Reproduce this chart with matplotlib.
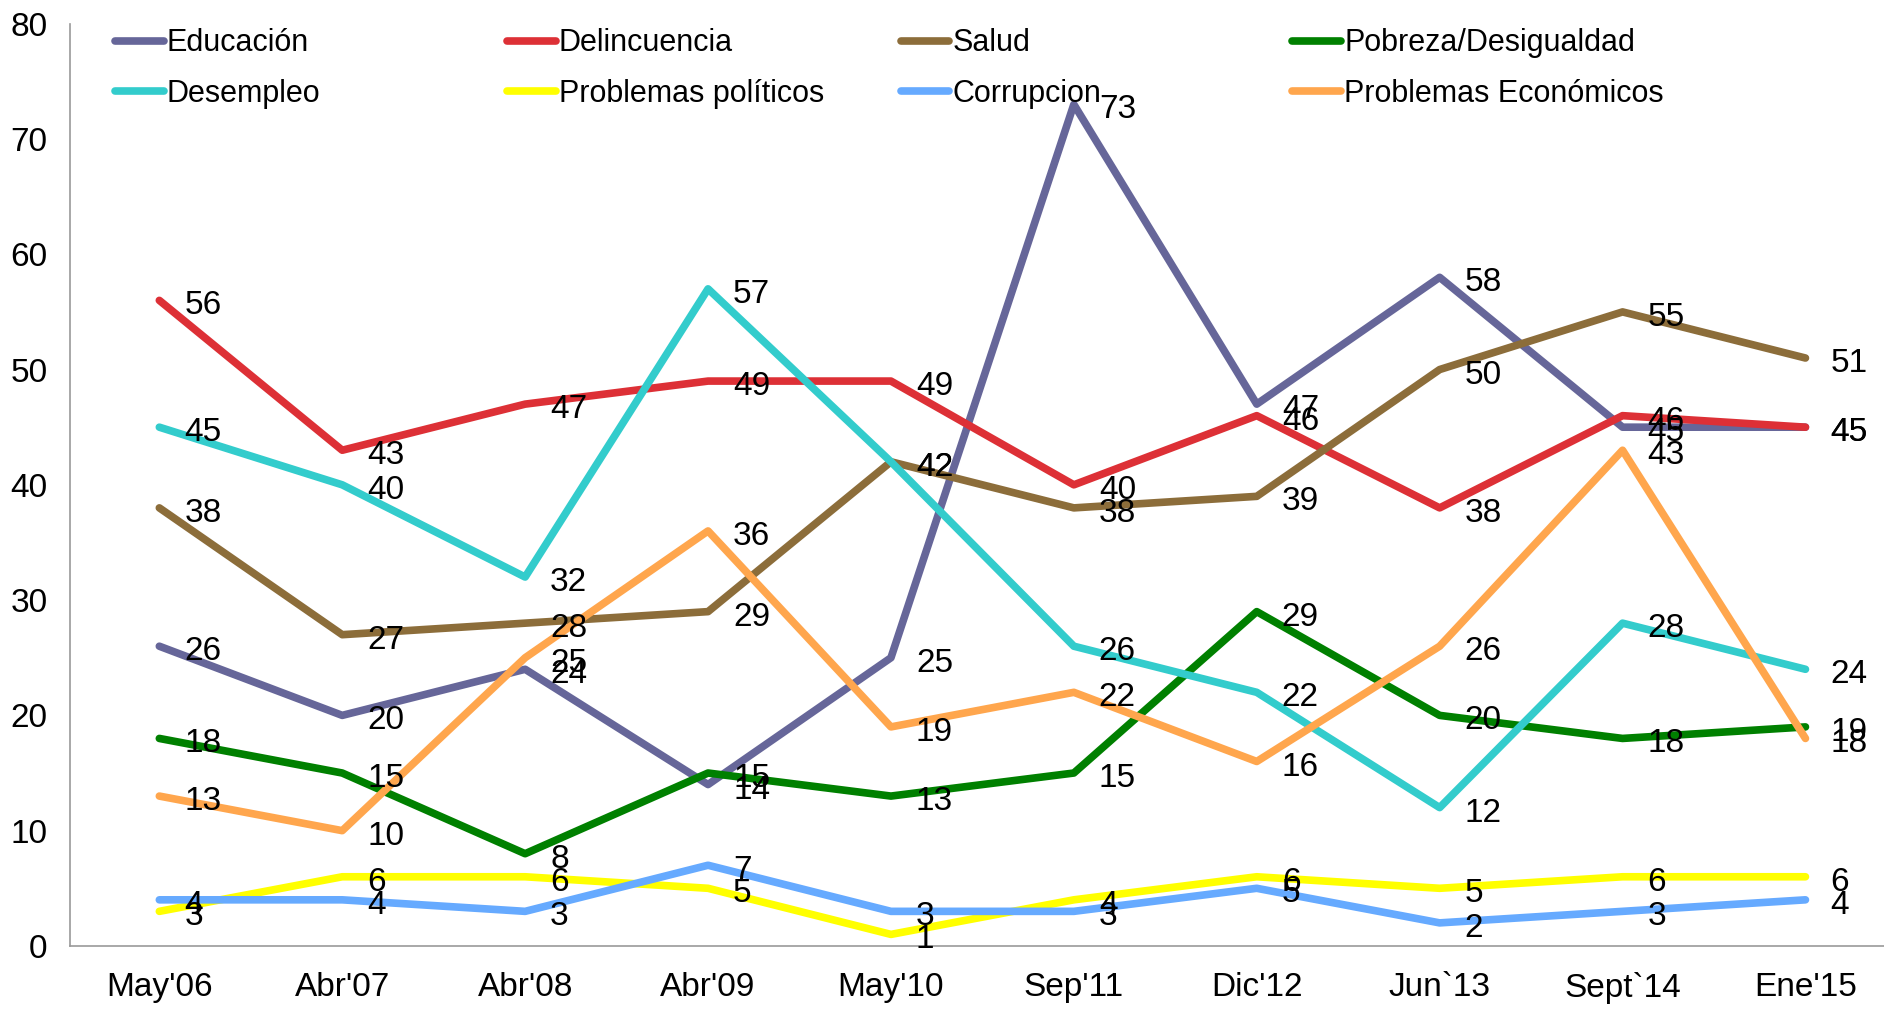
import matplotlib
matplotlib.use('Agg')
from matplotlib import pyplot as plt

plt.rcParams['font.family'] = ['Liberation Sans', 'DejaVu Sans']

# Fechas de las encuestas
fechas = ["May'06", "Abr'07", "Abr'08", "Abr'09", "May'10", "Sep'11", "Dic'12", "Jun`13", "Sept`14", "Ene'15"]

# Series (porcentaje)
educacion = [26, 20, 24, 14, 25, 73, 47, 58, 45, 45]
delincuencia = [56, 43, 47, 49, 49, 40, 46, 38, 46, 45]
salud = [38, 27, 28, 29, 42, 38, 39, 50, 55, 51]
pobreza = [18, 15, 8, 15, 13, 15, 29, 20, 18, 19]
desempleo = [45, 40, 32, 57, 42, 26, 22, 12, 28, 24]
politicos = [3, 6, 6, 5, 1, 4, 6, 5, 6, 6]
corrupcion = [4, 4, 3, 7, 3, 3, 5, 2, 3, 4]
economicos = [13, 10, 25, 36, 19, 22, 16, 26, 43, 18]

series = [
    ('Educación', educacion, '#666699'),
    ('Delincuencia', delincuencia, '#DD3036'),
    ('Salud', salud, '#8C6D3A'),
    ('Pobreza/Desigualdad', pobreza, '#008000'),
    ('Desempleo', desempleo, '#33CCCC'),
    ('Problemas políticos', politicos, '#FFFF00'),
    ('Corrupcion', corrupcion, '#66AAFF'),
    ('Problemas Económicos', economicos, '#FFA64D'),
]

fig = plt.figure(figsize=(18.84, 10.09), dpi=100)
ax = fig.add_axes([0.037, 0.0625, 0.965, 0.914])

x = list(range(len(fechas)))
lineas = []
for nombre, valores, color in series:
    l, = ax.plot(x, valores, color=color, linewidth=5.5, label=nombre, solid_capstyle='round')
    lineas.append(l)
    for i, v in zip(x, valores):
        ax.annotate(str(v), (i, v), xytext=(18, -4), textcoords='offset points',
                    ha='left', va='center', fontsize=24, color='black', zorder=5)

ax.set_xlim(-0.49, 9.45)
ax.set_ylim(0, 80)
ax.set_yticks(range(0, 81, 10))
ax.set_xticks(x)
ax.set_xticklabels(fechas)
ax.tick_params(axis='y', length=0, labelsize=24, pad=16)
ax.tick_params(axis='x', length=0, labelsize=24, pad=19)

for s in ['top', 'right']:
    ax.spines[s].set_visible(False)
for s in ['left', 'bottom']:
    ax.spines[s].set_color('#999999')
    ax.spines[s].set_linewidth(1.2)

# Leyenda en 4 columnas espaciadas igual
pos_x = [0.061, 0.269, 0.478, 0.686]
for c in range(4):
    h = [lineas[c], lineas[c + 4]]
    leg = ax.legend(handles=h, loc='upper left', bbox_to_anchor=(pos_x[c], 0.972),
                    bbox_transform=fig.transFigure, frameon=False, fontsize=22,
                    borderpad=0, borderaxespad=0, handlelength=1.6, handletextpad=0.1,
                    labelspacing=0.67)
    if c < 3:
        ax.add_artist(leg)

plt.savefig('out.png', dpi=100)
